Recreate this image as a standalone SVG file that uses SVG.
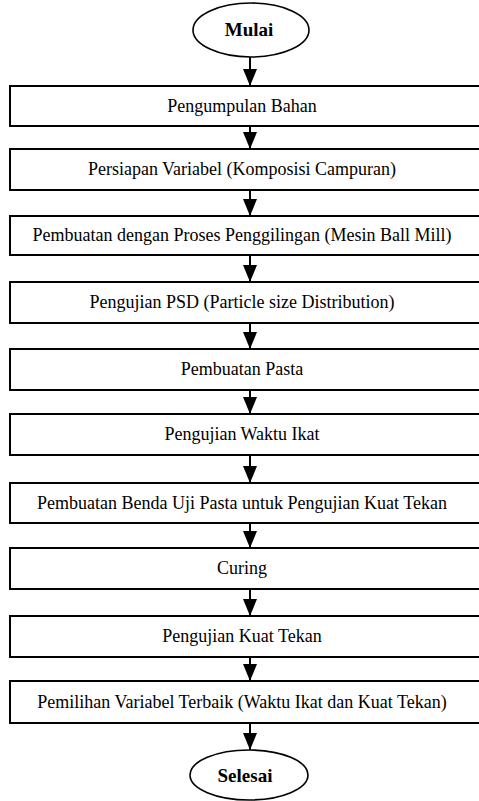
<svg xmlns="http://www.w3.org/2000/svg" width="479" height="801" viewBox="0 0 479 801" font-family="Liberation Serif, Times New Roman, serif">
<style>
.box{fill:#fff;stroke:#000;stroke-width:2}
.term{fill:#fff;stroke:#000;stroke-width:1.6}
text{font-family:"Liberation Serif","Times New Roman",serif;fill:#000;text-anchor:middle}
.t{font-size:18px}
.tb{font-size:19px;font-weight:bold}
.c{stroke:#000;stroke-width:2;fill:none;marker-end:url(#ah)}
</style>
<defs>
<marker id="ah" markerUnits="userSpaceOnUse" markerWidth="18" markerHeight="16" refX="17" refY="8" orient="auto" viewBox="0 0 18 16">
<path d="M0,1 L17,8 L0,15 Z" fill="#000"/>
</marker>
</defs>
<g id="connectors">
<line class="c" x1="250" y1="57" x2="250" y2="86"/>
<line class="c" x1="250" y1="127" x2="250" y2="149"/>
<line class="c" x1="250" y1="191" x2="250" y2="216"/>
<line class="c" x1="250" y1="256" x2="250" y2="282"/>
<line class="c" x1="250" y1="324" x2="250" y2="349"/>
<line class="c" x1="250" y1="391" x2="250" y2="414"/>
<line class="c" x1="250" y1="456" x2="250" y2="483"/>
<line class="c" x1="250" y1="524" x2="250" y2="548"/>
<line class="c" x1="250" y1="590" x2="250" y2="616"/>
<line class="c" x1="250" y1="658" x2="250" y2="681"/>
<line class="c" x1="250" y1="724" x2="250" y2="750"/>
</g>
<g id="mulai">
<ellipse class="term" cx="251" cy="30" rx="58" ry="27"/>
<text class="tb" x="249" y="36">Mulai</text>
</g>
<g id="n1"><rect class="box" x="10" y="86" width="480" height="40"/><text class="t" x="242" y="112">Pengumpulan Bahan</text></g>
<g id="n2"><rect class="box" x="10" y="149" width="480" height="41"/><text class="t" x="242" y="175">Persiapan Variabel (Komposisi Campuran)</text></g>
<g id="n3"><rect class="box" x="10" y="216" width="480" height="39"/><text class="t" x="242" y="241">Pembuatan dengan Proses Penggilingan (Mesin Ball Mill)</text></g>
<g id="n4"><rect class="box" x="10" y="282" width="480" height="41"/><text class="t" x="242" y="308">Pengujian PSD (Particle size Distribution)</text></g>
<g id="n5"><rect class="box" x="10" y="349" width="480" height="41"/><text class="t" x="242" y="375">Pembuatan Pasta</text></g>
<g id="n6"><rect class="box" x="10" y="414" width="480" height="41"/><text class="t" x="242" y="440">Pengujian Waktu Ikat</text></g>
<g id="n7"><rect class="box" x="10" y="483" width="480" height="40"/><text class="t" x="242" y="509">Pembuatan Benda Uji Pasta untuk Pengujian Kuat Tekan</text></g>
<g id="n8"><rect class="box" x="10" y="548" width="480" height="41"/><text class="t" x="242" y="574">Curing</text></g>
<g id="n9"><rect class="box" x="10" y="616" width="480" height="41"/><text class="t" x="242" y="642">Pengujian Kuat Tekan</text></g>
<g id="n10"><rect class="box" x="10" y="681" width="480" height="42"/><text class="t" x="242" y="708">Pemilihan Variabel Terbaik (Waktu Ikat dan Kuat Tekan)</text></g>
<g id="selesai">
<ellipse class="term" cx="249" cy="775" rx="59" ry="25"/>
<text class="tb" x="245" y="782">Selesai</text>
</g>
</svg>
